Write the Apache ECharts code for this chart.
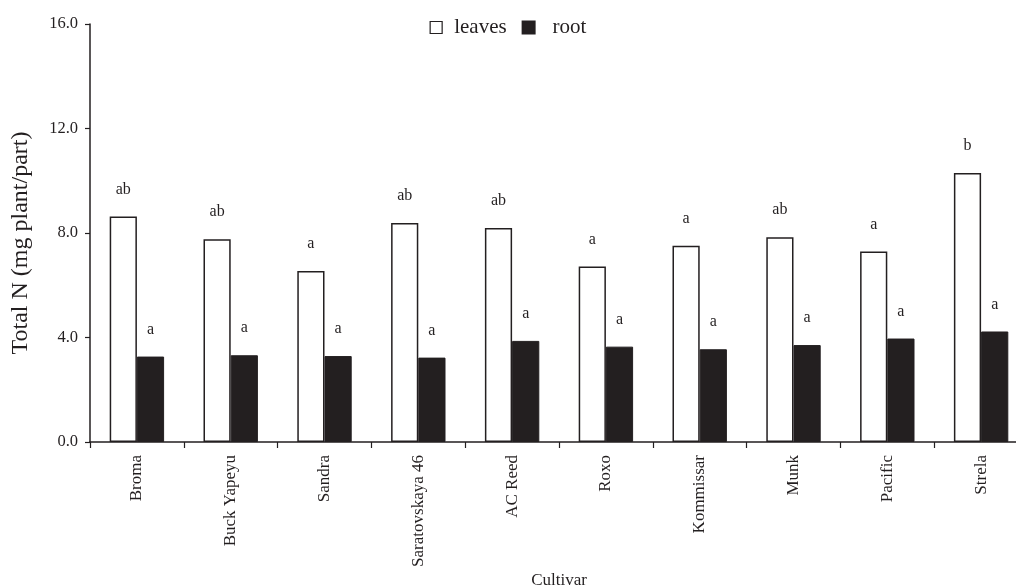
<!DOCTYPE html>
<html>
<head>
<meta charset="utf-8">
<script src="https://cdn.jsdelivr.net/npm/echarts@6/dist/echarts.min.js"></script>
<style>html,body{margin:0;padding:0;background:#fff}#c{width:1016px;height:586px}</style>
</head>
<body>
<div id="c"></div>
<script>
const categories = ['Broma','Buck Yapeyu','Sandra','Saratovskaya 46','AC Reed','Roxo','Kommissar','Munk','Pacific','Strela'];
const leaves = [8.63, 7.76, 6.55, 8.38, 8.19, 6.72, 7.51, 7.84, 7.29, 10.30];
const root = [3.27, 3.32, 3.29, 3.23, 3.87, 3.65, 3.55, 3.71, 3.96, 4.23];
const leavesLetters = ['ab','ab','a','ab','ab','a','a','ab','a','b'];
const rootLetters = ['a','a','a','a','a','a','a','a','a','a'];
const yTicks = [0, 4, 8, 12, 16];

const FONT = 'Liberation Serif';
const INK = '#231f20';
const chart = echarts.init(document.getElementById('c'));
chart.setOption({
  animation: false,
  backgroundColor: '#fff',
  textStyle: {fontFamily: FONT, color: INK},
  legend: {
    top: 12, left: 'center',
    itemWidth: 12, itemHeight: 12, itemGap: 15,
    textStyle: {fontFamily: FONT, fontSize: 21, color: INK},
    data: [
      {name: 'leaves', icon: 'rect', itemStyle: {color: '#fff', borderColor: INK, borderWidth: 1.2},
        textStyle: {fontFamily: FONT, fontSize: 21, color: INK, padding: [0, 0, 0, 7]}},
      {name: 'root', icon: 'rect', itemStyle: {color: INK},
        textStyle: {fontFamily: FONT, fontSize: 21, color: INK, padding: [0, 0, 0, 13]}}
    ]
  },
  grid: {left: 90, top: 24, bottom: 144, right: -12, containLabel: false, outerBoundsMode: 'none'},
  xAxis: {
    type: 'category', data: categories,
    name: 'Cultivar', nameLocation: 'middle', nameGap: 130, nameMoveOverlap: false,
    nameTextStyle: {fontFamily: FONT, fontSize: 17, color: INK},
    axisLine: {lineStyle: {color: INK, width: 1.5}},
    axisTick: {show: true, length: 6, lineStyle: {color: INK, width: 1.2}, alignWithLabel: false},
    axisLabel: {rotate: 90, fontFamily: FONT, fontSize: 17, color: INK, margin: 13}
  },
  yAxis: {
    type: 'value', min: 0, max: 16, interval: 4,
    name: 'Total N (mg plant/part)', nameLocation: 'middle', nameGap: 57, nameRotate: 90, nameMoveOverlap: false,
    nameTextStyle: {fontFamily: FONT, fontSize: 24, color: INK, padding: [0, 20, 0, 0]},
    axisLine: {show: true, lineStyle: {color: INK, width: 1.5}},
    axisTick: {show: true, length: 5, lineStyle: {color: INK, width: 1.2}},
    splitLine: {show: false},
    axisLabel: {fontFamily: FONT, fontSize: 16.5, color: INK, margin: 12,
      formatter: v => yTicks.includes(v) ? v.toFixed(1) : ''}
  },
  series: [
    {
      name: 'leaves', type: 'bar', data: leaves,
      barGap: '0%', barCategoryGap: '42%',
      itemStyle: {color: '#fff', borderColor: INK, borderWidth: 1.5},
      label: {show: true, position: 'top', distance: 19, fontFamily: FONT, fontSize: 16, color: INK,
        formatter: p => leavesLetters[p.dataIndex]}
    },
    {
      name: 'root', type: 'bar', data: root,
      barGap: '0%', barCategoryGap: '42%',
      itemStyle: {color: INK, borderColor: INK, borderWidth: 1},
      label: {show: true, position: 'top', distance: 19, fontFamily: FONT, fontSize: 16, color: INK,
        formatter: p => rootLetters[p.dataIndex]}
    }
  ]
});
</script>
</body>
</html>
